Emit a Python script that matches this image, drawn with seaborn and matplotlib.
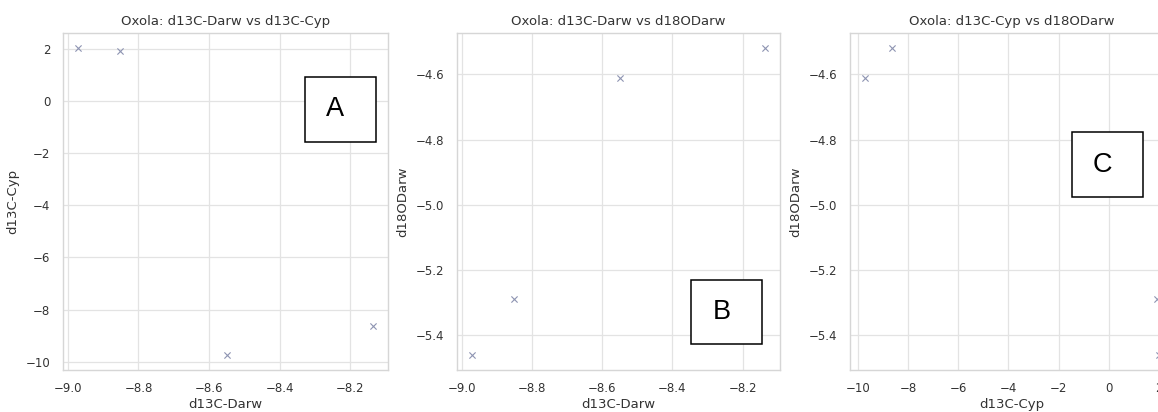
import matplotlib
matplotlib.use("Agg")
import matplotlib.pyplot as plt
from matplotlib.patches import Rectangle
import pandas as pd
import seaborn as sns

# Oxola isotope measurements (four samples)
d13c_darw = [-8.972, -8.851, -8.549, -8.135]
d13c_cyp = [2.02, 1.92, -9.73, -8.63]
d18o_darw = [-5.46, -5.29, -4.61, -4.52]

site = "Oxola"
pairs = [("d13C-Darw", "d13C-Cyp"), ("d13C-Darw", "d18ODarw"), ("d13C-Cyp", "d18ODarw")]
panel_letters = ["A", "B", "C"]

df = pd.DataFrame({"d13C-Darw": d13c_darw, "d13C-Cyp": d13c_cyp, "d18ODarw": d18o_darw})

sns.set_theme(style="whitegrid")
plt.rcParams["font.family"] = ["DejaVu Sans"]

W, H = 1158, 412
fig = plt.figure(figsize=(W / 100, H / 100), dpi=100)


def px_axes(left, top, right, bottom):
    return fig.add_axes([left / W, 1 - bottom / H, (right - left) / W, (bottom - top) / H])


axes = [
    px_axes(63, 33, 388, 370),
    px_axes(457, 33, 780, 370),
    px_axes(850, 33, 1174, 370),
]

for ax, (xc, yc) in zip(axes, pairs):
    sns.scatterplot(data=df, x=xc, y=yc, ax=ax, marker="x", color="#8e94b2",
                    s=20, linewidth=0.8)
    ax.set_title(f"{site}: {xc} vs {yc}", fontsize=9.5, color="#333333", pad=6)
    ax.set_xlabel(xc, fontsize=9.5, color="#333333", labelpad=2)
    ax.set_ylabel(yc, fontsize=9.5, color="#333333", labelpad=5)
    ax.tick_params(labelsize=8.5, colors="#333333", pad=3)
    ax.grid(color="#e3e3e3", linewidth=0.9)
    for sp in ax.spines.values():
        sp.set_color("#d6d6d6")
        sp.set_linewidth(1.0)

# Panel letter boxes (pixel coordinates: left, top, right, bottom)
boxes = [(305, 77, 376, 142), (691, 280, 762, 344), (1072, 132, 1143, 197)]
for letter, (l, t, r, b) in zip(panel_letters, boxes):
    fig.patches.append(Rectangle((l / W, 1 - b / H), (r - l) / W, (b - t) / H,
                                 transform=fig.transFigure, facecolor="white",
                                 edgecolor="black", linewidth=1.1, zorder=5))
    fig.text((l + r) / 2 / W - 5 / W, 1 - (t + b) / 2 / H, letter,
             ha="center", va="center", fontsize=19.5, family=["Liberation Sans"],
             color="black", zorder=6)

fig.savefig("out.png", dpi=100)
